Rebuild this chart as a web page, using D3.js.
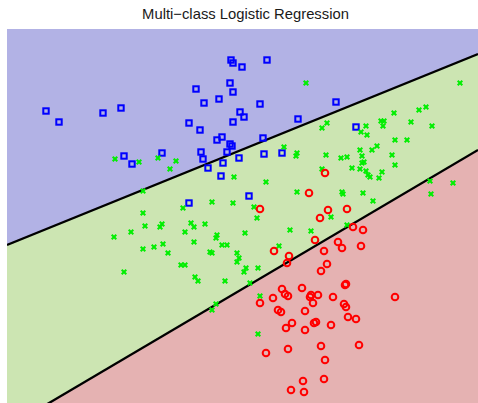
<!DOCTYPE html>
<html>
<head>
<meta charset="utf-8">
<script src="https://cdn.jsdelivr.net/npm/d3@7"></script>
<style>
  html, body { margin: 0; padding: 0; background: #ffffff; }
  svg { display: block; }
</style>
</head>
<body>
<svg id="chart" width="478" height="403"></svg>
<script>
// Feature space extents
const xExtent = [0, 47.1];
const yExtent = [0, 37.4];

// Decision boundaries y = intercept + slope * x (blue|green, green|red)
const boundaryIntercepts = [15.8, -2.48];
const boundarySlopes = [0.4055, 0.59];

// Class 1 (blue squares)
const class1X = [3.9, 5.2, 9.6, 11.4, 11.7, 12.5, 15.5, 18.9, 19.7, 18.2, 19.3, 21.0, 21.5, 19.4, 19.6, 20.1, 21.4, 22.0, 21.6, 22.3, 22.6, 21.2, 22.4, 22.6, 22.3, 22.5, 22.6, 23.3, 23.7, 23.2, 23.5, 26.0, 25.3, 25.6, 25.7, 27.5, 32.9, 29.1, 34.9, 18.2, 24.2];
const class1Y = [29.2, 28.1, 29.0, 29.5, 24.7, 23.9, 25.0, 31.4, 30.0, 28.0, 27.3, 26.3, 26.6, 25.1, 24.4, 23.5, 22.7, 25.1, 24.0, 32.0, 31.1, 30.4, 34.3, 34.0, 25.9, 25.7, 28.1, 29.1, 28.6, 24.5, 33.6, 34.3, 29.9, 26.5, 24.9, 25.0, 30.1, 28.4, 27.6, 20.0, 20.7];

// Class 2 (green crosses)
const class2X = [10.8, 13.2, 15.1, 16.9, 16.3, 22.7, 13.6, 20.5, 22.6, 17.6, 13.6, 15.5, 15.3, 13.8, 18.4, 18.7, 19.8, 12.4, 10.7, 17.8, 18.7, 21.0, 20.9, 13.6, 14.7, 15.6, 16.1, 20.3, 20.5, 21.5, 22.0, 23.0, 23.2, 23.0, 11.7, 17.4, 17.8, 18.8, 19.1, 21.8, 23.8, 23.9, 23.7, 25.1, 24.3, 27.2, 25.3, 20.9, 20.5, 25.9, 29.0, 33.5, 33.6, 35.6, 36.6, 24.7, 25.0, 32.4, 28.3, 30.4, 34.0, 42.3, 44.6, 42.4, 29.9, 45.3, 32.0, 31.5, 27.7, 29.0, 28.9, 31.9, 31.5, 35.9, 35.4, 36.0, 37.4, 37.7, 37.6, 38.7, 41.2, 41.9, 40.4, 42.5, 38.8, 40.0, 35.3, 36.5, 37.0, 35.5, 33.4, 34.0, 38.5, 35.5, 35.7, 34.5, 35.3, 35.9, 36.1, 36.3, 37.2, 37.5, 38.8, 25.1];
const class2Y = [24.4, 24.1, 24.5, 24.2, 23.4, 22.6, 21.2, 20.1, 20.0, 19.5, 19.0, 17.9, 17.6, 17.7, 18.0, 17.6, 17.9, 17.1, 16.6, 17.1, 16.1, 16.8, 16.5, 15.4, 15.6, 15.9, 15.0, 15.1, 15.0, 15.8, 15.8, 15.0, 14.5, 14.1, 13.1, 13.8, 13.8, 12.6, 12.2, 12.2, 17.0, 13.5, 13.1, 13.5, 12.0, 15.7, 10.7, 9.9, 9.3, 22.1, 21.1, 21.1, 20.9, 21.0, 20.2, 19.6, 18.5, 18.6, 17.3, 17.2, 17.8, 22.2, 22.0, 20.9, 32.0, 32.0, 28.0, 27.5, 25.6, 25.0, 24.7, 24.8, 23.4, 27.7, 27.1, 26.8, 28.2, 28.2, 27.7, 29.0, 29.3, 29.6, 28.1, 27.7, 26.3, 26.3, 25.3, 25.3, 25.7, 24.7, 24.5, 24.6, 24.8, 24.0, 24.1, 23.5, 23.4, 23.2, 22.8, 22.6, 22.5, 23.1, 23.8, 6.9];

// Class 3 (red circles)
const class3X = [31.8, 30.2, 25.3, 32.1, 34.0, 31.3, 34.6, 35.6, 30.8, 33.1, 33.5, 35.4, 26.7, 31.7, 28.2, 28.0, 32.0, 31.4, 33.9, 33.8, 29.5, 27.5, 27.8, 28.1, 30.4, 30.3, 31.1, 32.6, 26.6, 38.8, 25.3, 30.6, 33.7, 33.9, 27.1, 27.4, 29.8, 34.1, 34.9, 28.5, 27.9, 29.8, 30.7, 30.9, 32.4, 25.9, 28.1, 31.4, 35.2, 31.8, 29.6, 31.7, 28.4, 29.7];
const class3Y = [23.0, 21.0, 19.4, 19.3, 19.4, 18.5, 17.6, 17.3, 16.3, 16.1, 15.5, 15.7, 15.2, 15.2, 14.7, 14.0, 13.9, 13.2, 11.9, 11.8, 11.5, 11.4, 10.9, 10.7, 10.8, 10.6, 10.8, 10.6, 10.5, 10.6, 10.0, 10.0, 9.9, 9.6, 9.3, 9.1, 9.2, 8.6, 8.4, 8.0, 7.5, 7.3, 8.0, 8.1, 7.8, 5.0, 5.4, 5.7, 5.8, 4.3, 2.2, 2.4, 1.3, 1.1];

const titleText = "Multi\u2212class Logistic Regression";

const margin = { top: 29, right: 0, bottom: 0, left: 7 };
const width = 478, height = 403;

const svg = d3.select("#chart");

const x = d3.scaleLinear().domain(xExtent).range([margin.left, width - margin.right]);
const y = d3.scaleLinear().domain(yExtent).range([height - margin.bottom, margin.top]);

svg.append("text")
  .attr("x", 245.5)
  .attr("y", 18.5)
  .attr("text-anchor", "middle")
  .attr("font-family", "Liberation Sans, Arial, sans-serif")
  .attr("font-size", 14.8)
  .attr("fill", "#1a1a1a")
  .text(titleText);

svg.append("clipPath").attr("id", "plot-clip")
  .append("rect")
  .attr("x", x(xExtent[0])).attr("y", y(yExtent[1]))
  .attr("width", x(xExtent[1]) - x(xExtent[0]))
  .attr("height", y(yExtent[0]) - y(yExtent[1]));

const plot = svg.append("g").attr("clip-path", "url(#plot-clip)");

const boundary = i => xv => boundaryIntercepts[i] + boundarySlopes[i] * xv;
const [x0, x1] = xExtent;
const [y0, y1] = yExtent;
const line = d3.line().x(d => x(d[0])).y(d => y(d[1]));

// Middle class fills the plot; the other two regions cover it
plot.append("rect")
  .attr("x", x(x0)).attr("y", y(y1))
  .attr("width", x(x1) - x(x0)).attr("height", y(y0) - y(y1))
  .attr("fill", "#cce5b2");

const upper = boundary(0), lower = boundary(1);
plot.append("path")
  .attr("d", line([[x0, upper(x0)], [x1, upper(x1)], [x1, y1], [x0, y1]]) + "Z")
  .attr("fill", "#b2b2e5");
plot.append("path")
  .attr("d", line([[x0, lower(x0)], [x1, lower(x1)], [x1, y0], [x0, y0]]) + "Z")
  .attr("fill", "#e5b2b2");

[upper, lower].forEach(f => {
  plot.append("path")
    .attr("d", line([[x0, f(x0)], [x1, f(x1)]]))
    .attr("fill", "none")
    .attr("stroke", "#000")
    .attr("stroke-width", 2.3);
});

const zip = (xs, ys) => xs.map((v, i) => [v, ys[i]]);

// Class 1: hollow squares
plot.append("g").selectAll("rect")
  .data(zip(class1X, class1Y))
  .join("rect")
  .attr("x", d => x(d[0]) - 2.7)
  .attr("y", d => y(d[1]) - 2.7)
  .attr("width", 5.4).attr("height", 5.4)
  .attr("fill", "none")
  .attr("stroke", "#0000ff")
  .attr("stroke-width", 2);

// Class 2: crosses
plot.append("g").selectAll("path")
  .data(zip(class2X, class2Y))
  .join("path")
  .attr("d", d => {
    const cx = x(d[0]), cy = y(d[1]), s = 2.3;
    return `M${cx - s},${cy - s}L${cx + s},${cy + s}M${cx - s},${cy + s}L${cx + s},${cy - s}`;
  })
  .attr("stroke", "#00ee00")
  .attr("stroke-width", 2)
  .attr("fill", "none");

// Class 3: hollow circles
plot.append("g").selectAll("circle")
  .data(zip(class3X, class3Y))
  .join("circle")
  .attr("cx", d => x(d[0]))
  .attr("cy", d => y(d[1]))
  .attr("r", 3.3)
  .attr("fill", "none")
  .attr("stroke", "#ff0000")
  .attr("stroke-width", 2);
</script>
</body>
</html>
